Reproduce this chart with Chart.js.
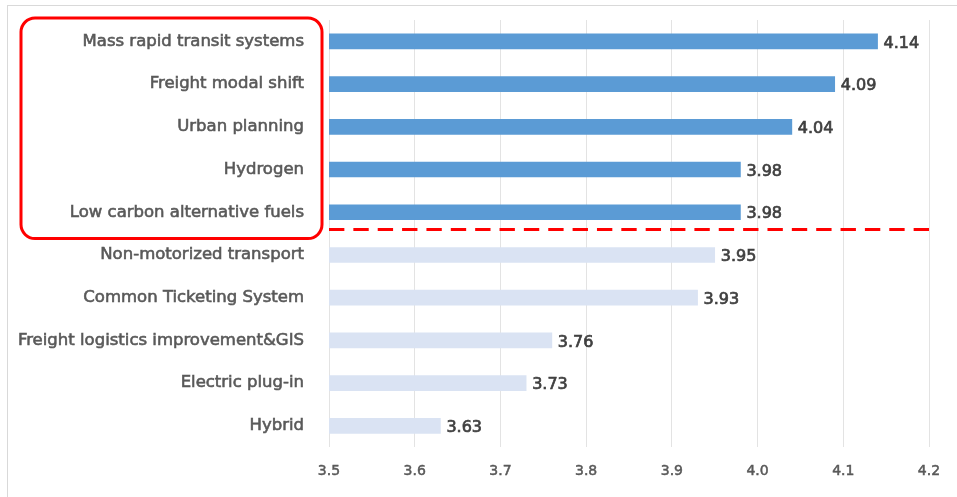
<!DOCTYPE html>
<html>
<head>
<meta charset="utf-8">
<script src="https://cdn.jsdelivr.net/npm/chart.js@4"></script>
<style>
  html,body{margin:0;padding:0;background:#fff;overflow:hidden}
  #wrap{position:relative;width:957px;height:497px}
  #frame{position:absolute;left:7px;top:5px;width:960px;height:500px;border-left:1px solid #d9d9d9;border-top:1px solid #d9d9d9}
  canvas{position:absolute;left:0;top:0}
</style>
</head>
<body>
<div id="wrap">
  <div id="frame"></div>
  <canvas id="chart" width="957" height="497"></canvas>
</div>
<script>
// categories top to bottom
const categories = [
  "Mass rapid transit systems",
  "Freight modal shift",
  "Urban planning",
  "Hydrogen",
  "Low carbon alternative fuels",
  "Non-motorized transport",
  "Common Ticketing System",
  "Freight logistics improvement&GIS",
  "Electric plug-in",
  "Hybrid"
];
const scores = [4.14, 4.09, 4.04, 3.98, 3.98, 3.95, 3.93, 3.76, 3.73, 3.63];
const topCount = 5; // highlighted group
const xTicks = [3.5, 3.6, 3.7, 3.8, 3.9, 4.0, 4.1, 4.2];

const FONT = "'DejaVu Sans', sans-serif";
const barColors = scores.map((v,i)=> i<topCount ? "#5b9bd5" : "#dae3f3");

const overlay = {
  id: "overlay",
  afterDatasetsDraw(chart){
    const ctx = chart.ctx, xs = chart.scales.x, ys = chart.scales.y;
    const meta = chart.getDatasetMeta(0);
    // value labels
    ctx.save();
    ctx.font = "16px " + FONT;
    ctx.fillStyle = "#404040";
    ctx.strokeStyle = "#404040";
    ctx.lineWidth = 0.7;
    ctx.textBaseline = "middle";
    ctx.textAlign = "left";
    meta.data.forEach((bar,i)=>{
      const t = scores[i].toFixed(2);
      ctx.fillText(t, bar.x + 6, bar.y + 2);
      ctx.strokeText(t, bar.x + 6, bar.y + 2);
    });
    // dashed separator (25 dashes across the plot)
    const yl = ys.getPixelForValue(topCount - 0.5) - 4;
    const w = xs.right - xs.left, gap = 9;
    ctx.strokeStyle = "#ff0000";
    ctx.lineWidth = 3;
    ctx.setLineDash([(w - 24 * gap) / 25, gap]);
    ctx.beginPath();
    ctx.moveTo(xs.left, yl);
    ctx.lineTo(xs.right, yl);
    ctx.stroke();
    // rounded box around highlighted labels
    ctx.setLineDash([]);
    const top = ys.getPixelForValue(-0.5) - 2;
    const bot = ys.getPixelForValue(topCount - 0.5) + 5;
    ctx.beginPath();
    ctx.roundRect(21, top, 301, bot - top, 14);
    ctx.stroke();
    ctx.restore();
  }
};

new Chart(document.getElementById("chart"), {
  type: "bar",
  data: {
    labels: categories,
    datasets: [{
      data: scores,
      backgroundColor: barColors,
      borderWidth: 0,
      barThickness: 15
    }]
  },
  options: {
    indexAxis: "y",
    responsive: false,
    animation: false,
    layout: { padding: { top: 20, right: 28, bottom: 1, left: 0 } },
    plugins: { legend: { display: false }, tooltip: { enabled: false } },
    scales: {
      x: {
        min: 3.5, max: 4.2,
        afterBuildTicks: s => { s.ticks = xTicks.map(v => ({ value: v })); },
        grid: { color: "#e3e3e3", drawTicks: false },
        border: { display: false },
        ticks: {
          padding: 16,
          color: "#595959",
          textStrokeColor: "#595959",
          textStrokeWidth: 0.5,
          font: { family: FONT, size: 14 },
          callback: v => Number(v).toFixed(1)
        }
      },
      y: {
        grid: { display: true, drawOnChartArea: false, drawTicks: true, tickLength: 24, tickColor: "rgba(0,0,0,0)" },
        border: { display: false },
        afterFit: s => { s.width = 329; },
        ticks: {
          padding: 1,
          color: "#595959",
          textStrokeColor: "#595959",
          textStrokeWidth: 0.6,
          font: { family: FONT, size: 16.5 }
        }
      }
    }
  },
  plugins: [overlay]
});
</script>
</body>
</html>
